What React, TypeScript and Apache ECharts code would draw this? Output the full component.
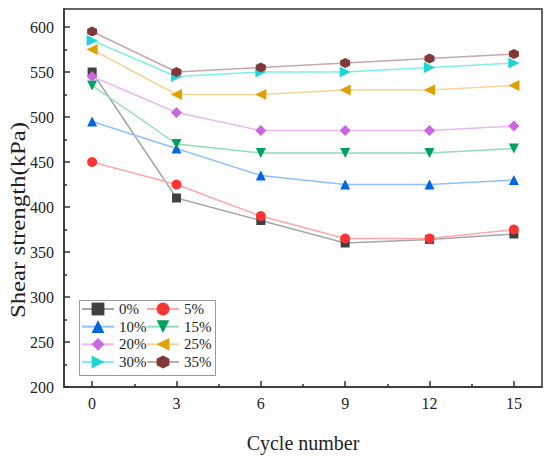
import React, { useEffect, useRef } from "react";
import * as echarts from "echarts";

const cycles = [0, 3, 6, 9, 12, 15];
const seriesNames = ["0%", "5%", "10%", "15%", "20%", "25%", "30%", "35%"];
const s0 = [550, 410, 385, 360, 364, 370];
const s5 = [450, 425, 390, 365, 365, 375];
const s10 = [495, 465, 435, 425, 425, 430];
const s15 = [535, 470, 460, 460, 460, 465];
const s20 = [545, 505, 485, 485, 485, 490];
const s25 = [575, 525, 525, 530, 530, 535];
const s30 = [585, 545, 550, 550, 555, 560];
const s35 = [595, 550, 555, 560, 565, 570];
const allValues = [s0, s5, s10, s15, s20, s25, s30, s35];

const xLabelValues = [0, 3, 6, 9, 12, 15];
const xMinorTicks = [1.5, 4.5, 7.5, 10.5, 13.5];
const yLabelValues = [200, 250, 300, 350, 400, 450, 500, 550, 600];
const yMinorTicks = [225, 275, 325, 375, 425, 475, 525, 575];

const markerColors = ["#404040", "#ff3333", "#0066e0", "#00a060", "#cc66e0", "#e0a000", "#1ed5d5", "#803838"];
const lineColors = ["#a6a6a6", "#ffa8a8", "#8ec0ff", "#8fdcb5", "#eab8f5", "#f7d595", "#80eeee", "#c8a8a8"];
const HEX = "path://M0,-1 L0.866,-0.5 L0.866,0.5 L0,1 L-0.866,0.5 L-0.866,-0.5 Z";
const symbols = ["rect", "circle", "triangle", "triangle", "diamond", "triangle", "triangle", HEX];
const rotations = [0, 0, 0, 180, 0, 90, -90, 0];
const sizes = [9, 10, 10, 10, 11, 11, 11, 10];

const FONT = "'Liberation Serif', 'Times New Roman', serif";

export default function App() {
  const ref = useRef<HTMLDivElement>(null);
  useEffect(() => {
    if (!ref.current) return;
    const chart = echarts.init(ref.current, undefined, { renderer: "svg" });
    const axisColor = "#333";
    const series = seriesNames.map((name, i) => ({
      name,
      type: "line",
      data: cycles.map((c, j) => [c, allValues[i][j]]),
      symbol: symbols[i],
      symbolSize: sizes[i],
      symbolRotate: rotations[i],
      showAllSymbol: true,
      itemStyle: { color: markerColors[i], opacity: 1 },
      lineStyle: { color: lineColors[i], width: 1.5 },
      z: 2 + i,
    }));
    const legendBase = {
      orient: "vertical",
      top: 301,
      padding: 0,
      itemWidth: 32,
      itemHeight: 16,
      itemGap: 1.67,
      textStyle: { fontFamily: FONT, fontSize: 15, color: "#222", lineHeight: 16 },
    };
    chart.setOption({
      animation: false,
      backgroundColor: "#fff",
      grid: {
        left: 64,
        right: 8,
        top: 9,
        bottom: 63,
        show: true,
        borderColor: axisColor,
        borderWidth: 1.5,
        backgroundColor: "transparent",
      },
      legend: [
        { ...legendBase, left: 81, data: ["0%", "10%", "20%", "30%"] },
        { ...legendBase, left: 146, data: ["5%", "15%", "25%", "35%"] },
      ],
      graphic: [
        {
          type: "rect",
          left: 77,
          top: 298,
          shape: { width: 136, height: 75 },
          style: { fill: "none", stroke: "#999", lineWidth: 1 },
          z: 10,
        },
        {
          type: "text",
          x: 18,
          y: 220,
          rotation: Math.PI / 2,
          scaleX: 1.24,
          style: {
            text: "Shear strength(kPa)",
            font: `20px ${FONT}`,
            fill: "#222",
            align: "center",
            verticalAlign: "middle",
          },
        },
      ],
      xAxis: [
        {
          type: "value",
          min: -1,
          max: 16,
          name: "Cycle number",
          nameLocation: "middle",
          nameGap: 46,
          nameTextStyle: { fontFamily: FONT, fontSize: 20, color: "#222" },
          axisLine: { show: true, onZero: false, lineStyle: { color: axisColor, width: 1.5 } },
          axisTick: { show: true, inside: true, length: 6, customValues: xLabelValues, lineStyle: { color: axisColor, width: 1.5 } },
          axisLabel: { show: true, customValues: xLabelValues, margin: 8, fontFamily: FONT, fontSize: 16, color: "#222" },
          splitLine: { show: false },
        },
        {
          type: "value",
          min: -1,
          max: 16,
          position: "bottom",
          axisLine: { show: false, onZero: false },
          axisTick: { show: true, inside: true, length: 3, customValues: xMinorTicks, lineStyle: { color: axisColor, width: 1.5 } },
          axisLabel: { show: false },
          splitLine: { show: false },
        },
      ],
      yAxis: [
        {
          type: "value",
          min: 200,
          max: 620,
          axisLine: { show: true, onZero: false, lineStyle: { color: axisColor, width: 1.5 } },
          axisTick: { show: true, inside: true, length: 6, customValues: yLabelValues, lineStyle: { color: axisColor, width: 1.5 } },
          axisLabel: { show: true, customValues: yLabelValues, margin: 10, fontFamily: FONT, fontSize: 16, color: "#222" },
          splitLine: { show: false },
        },
        {
          type: "value",
          min: 200,
          max: 620,
          position: "left",
          axisLine: { show: false, onZero: false },
          axisTick: { show: true, inside: true, length: 3, customValues: yMinorTicks, lineStyle: { color: axisColor, width: 1.5 } },
          axisLabel: { show: false },
          splitLine: { show: false },
        },
      ],
      series,
    });
    return () => chart.dispose();
  }, []);
  return (
    <div
      ref={ref}
      style={{ position: "fixed", left: 0, top: 0, width: 550, height: 458, background: "#fff" }}
    />
  );
}
